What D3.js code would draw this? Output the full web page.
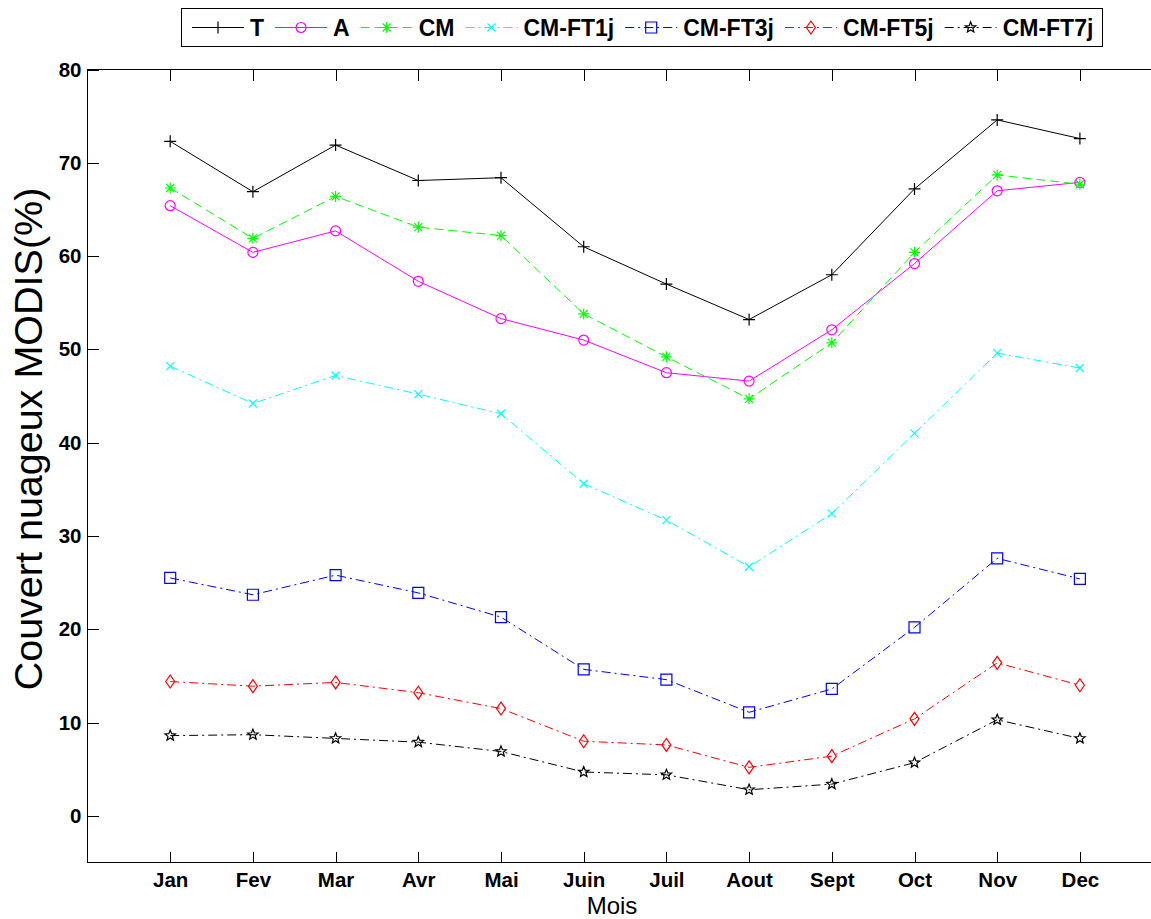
<!DOCTYPE html>
<html>
<head>
<meta charset="utf-8">
<script src="https://cdn.jsdelivr.net/npm/d3@7"></script>
<style>
  html, body { margin: 0; padding: 0; background: #fff; }
  svg { display: block; font-family: "Liberation Sans", Arial, Helvetica, sans-serif; }
</style>
</head>
<body>
<svg id="chart" width="1151" height="919"></svg>
<script>
// Monthly MODIS cloud cover (%)
const months = ["Jan", "Fev", "Mar", "Avr", "Mai", "Juin", "Juil", "Aout", "Sept", "Oct", "Nov", "Dec"];
const yTicks = [0, 10, 20, 30, 40, 50, 60, 70, 80];

const seriesT     = [72.3, 66.9, 71.9, 68.1, 68.4, 61.0, 57.0, 53.2, 58.0, 67.2, 74.6, 72.6];
const seriesA     = [65.4, 60.4, 62.7, 57.3, 53.3, 51.0, 47.5, 46.6, 52.1, 59.2, 67.0, 67.9];
const seriesCM    = [67.3, 61.9, 66.4, 63.1, 62.2, 53.8, 49.2, 44.7, 50.7, 60.4, 68.7, 67.7];
const seriesFT1j  = [48.2, 44.2, 47.2, 45.2, 43.1, 35.6, 31.7, 26.7, 32.4, 41.0, 49.6, 48.0];
const seriesFT3j  = [25.5, 23.7, 25.8, 23.9, 21.3, 15.7, 14.6, 11.1, 13.6, 20.2, 27.6, 25.4];
const seriesFT5j  = [14.4, 13.9, 14.3, 13.2, 11.5, 8.0, 7.6, 5.2, 6.4, 10.4, 16.4, 14.0];
const seriesFT7j  = [8.6, 8.7, 8.3, 7.9, 6.9, 4.7, 4.4, 2.8, 3.4, 5.7, 10.3, 8.3];

const seriesNames = ["T", "A", "CM", "CM-FT1j", "CM-FT3j", "CM-FT5j", "CM-FT7j"];

// Styling per series
const styles = [
  { values: seriesT,    color: "#000000", dash: null,        marker: "plus" },
  { values: seriesA,    color: "#ff00ff", dash: null,        marker: "circle" },
  { values: seriesCM,   color: "#00ff00", dash: "9,5",       marker: "asterisk" },
  { values: seriesFT1j, color: "#00ffff", dash: "9,4,2,4",   marker: "cross" },
  { values: seriesFT3j, color: "#0000ff", dash: "9,4,2,4",   marker: "square" },
  { values: seriesFT5j, color: "#ff0000", dash: "9,4,2,4",   marker: "diamond" },
  { values: seriesFT7j, color: "#000000", dash: "9,4,2,4",   marker: "star" }
];

const svg = d3.select("#chart");
const plotLeft = 87.5, plotTop = 69.5, plotBottom = 862.5;
const x = d3.scaleLinear().domain([0, 13]).range([plotLeft, plotLeft + 13 * 82.7]);
const y = d3.scaleLinear().domain([-5, 80]).range([plotBottom, plotTop]);

// Marker shapes
function starPath(ro, ri) {
  let p = "";
  for (let i = 0; i < 10; i++) {
    const r = i % 2 === 0 ? ro : ri;
    const a = -Math.PI / 2 + i * Math.PI / 5;
    p += (i === 0 ? "M" : "L") + (r * Math.cos(a)).toFixed(2) + "," + (r * Math.sin(a)).toFixed(2);
  }
  return p + "Z";
}
const markerPaths = {
  plus: "M-6,0H6M0,-6V6",
  circle: "M5,0A5,5 0 1,1 -5,0A5,5 0 1,1 5,0Z",
  asterisk: "M-5.5,0H5.5M0,-5.5V5.5M-4,-4L4,4M-4,4L4,-4",
  cross: "M-4,-4L4,4M-4,4L4,-4",
  square: "M-5.5,-5.5H5.5V5.5H-5.5Z",
  diamond: "M0,-6.5L4.5,0L0,6.5L-4.5,0Z",
  star: starPath(5.5, 2.4)
};

// Frame
svg.append("rect")
  .attr("x", plotLeft).attr("y", plotTop)
  .attr("width", x(13) - plotLeft).attr("height", plotBottom - plotTop)
  .attr("fill", "none").attr("stroke", "#000").attr("stroke-width", 1)
  .attr("shape-rendering", "crispEdges");

const fontTick = 20.5;

// Bottom axis
const xAxis = d3.axisBottom(x)
  .tickValues(d3.range(1, 13))
  .tickFormat(i => months[i - 1])
  .tickSizeInner(-11).tickSizeOuter(0).tickPadding(10);
const gx = svg.append("g").attr("transform", `translate(0,${plotBottom})`).call(xAxis);
gx.select(".domain").remove();

// Top axis ticks
const gxt = svg.append("g").attr("transform", `translate(0,${plotTop})`)
  .call(d3.axisTop(x).tickValues(d3.range(1, 13)).tickFormat("").tickSizeInner(-11).tickSizeOuter(0));
gxt.select(".domain").remove();

// Left axis
const yAxis = d3.axisLeft(y)
  .tickValues(yTicks)
  .tickSizeInner(-11).tickSizeOuter(0).tickPadding(6);
const gy = svg.append("g").attr("transform", `translate(${plotLeft},0)`).call(yAxis);
gy.select(".domain").remove();

svg.selectAll(".tick line").attr("stroke", "#000").attr("shape-rendering", "crispEdges");
svg.selectAll(".tick text")
  .attr("fill", "#000")
  .style("font-size", fontTick + "px")
  .style("font-weight", "bold")
  .style("font-family", "'Liberation Sans', Arial, sans-serif");

// Axis titles
svg.append("text")
  .attr("x", 612).attr("y", 914)
  .attr("text-anchor", "middle")
  .style("font-size", "24px")
  .text("Mois");

svg.append("text")
  .attr("transform", `translate(42,439) rotate(-90)`)
  .attr("text-anchor", "middle")
  .style("font-size", "39.5px")
  .text("Couvert nuageux MODIS(%)");

// Series lines and markers
const line = d3.line().x((d, i) => x(i + 1)).y(d => y(d));

styles.forEach(s => {
  svg.append("path")
    .datum(s.values)
    .attr("d", line)
    .attr("fill", "none")
    .attr("stroke", s.color)
    .attr("stroke-width", 1)
    .attr("stroke-dasharray", s.dash);

  svg.append("g").selectAll("path")
    .data(s.values)
    .join("path")
    .attr("transform", (d, i) => `translate(${x(i + 1)},${y(d)})`)
    .attr("d", markerPaths[s.marker])
    .attr("fill", "none")
    .attr("stroke", s.color)
    .attr("stroke-width", 1.2);
});

// Legend
const legend = svg.append("g");
const legBox = legend.append("rect")
  .attr("fill", "#fff").attr("stroke", "#000").attr("stroke-width", 1)
  .attr("shape-rendering", "crispEdges");
let cx = 192;
const ly = 27.5;
styles.forEach((s, k) => {
  legend.append("line")
    .attr("x1", cx).attr("x2", cx + 52).attr("y1", ly).attr("y2", ly)
    .attr("stroke", s.color).attr("stroke-width", 1)
    .attr("stroke-dasharray", s.dash);
  legend.append("path")
    .attr("transform", `translate(${cx + 26},${ly})`)
    .attr("d", markerPaths[s.marker])
    .attr("fill", "none").attr("stroke", s.color).attr("stroke-width", 1.2);
  const t = legend.append("text")
    .attr("x", cx + 58).attr("y", ly + 8.5)
    .style("font-size", "23px")
    .style("font-weight", "bold")
    .text(seriesNames[k]);
  cx = cx + 58 + t.node().getComputedTextLength() + 11;
});
legBox.attr("x", 181.5).attr("y", 8.5).attr("width", cx - 181.5 - 2).attr("height", 38);
</script>
</body>
</html>
